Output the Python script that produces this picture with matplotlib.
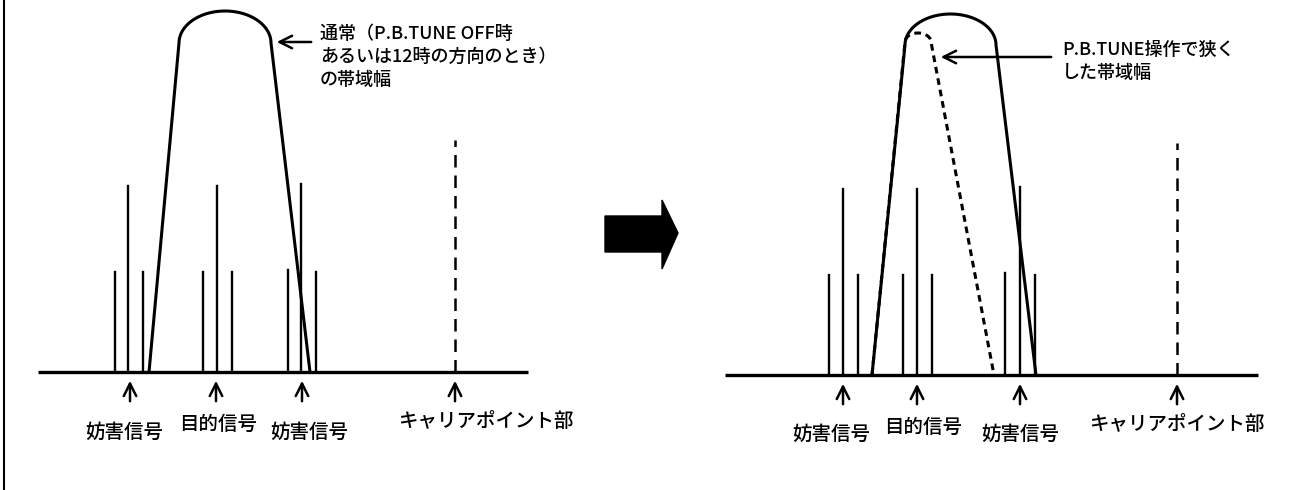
import numpy as np
import matplotlib
matplotlib.use("Agg")
import matplotlib.pyplot as plt
from matplotlib.patches import Polygon

plt.rcParams['font.family'] = ['Noto Sans CJK JP', 'DejaVu Sans']

# diagram units: x to the right, y = height above the baseline
# left panel (normal bandwidth)
L_base = 372
L_span = (38, 528)
L_sig_x = [115, 128, 143, 203, 217, 232, 288, 301, 316]
L_sig_h = [100, 186, 100, 100, 186, 100, 102, 188, 100]
L_carrier_x = 455
L_carrier_h = 232
# filter outline: feet, shoulders, shoulder height, peak height
L_filter = dict(foot=(149, 310), shoulder=(179, 271), shoulder_h=329, peak_h=361)
L_arrow_x = [130, 216, 302, 455]
L_labels = ['妨害信号', '目的信号', '妨害信号', 'キャリアポイント部']
L_label_x = [124, 218, 309, 486]
L_label_y = [432, 424, 432, 421]

# right panel (narrowed by P.B.TUNE)
R_base = 375
R_span = (725, 1258)
R_sig_x = [829, 843, 858, 903, 917, 932, 1005, 1020, 1035]
R_sig_h = [100, 186, 100, 100, 186, 100, 102, 188, 100]
R_carrier_x = 1177
R_carrier_h = 232
R_filter = dict(foot=(872, 1036), shoulder=(905, 996), shoulder_h=330, peak_h=361)
R_narrow = dict(foot=(872, 994), shoulder=(905, 931), shoulder_h=333, peak_h=342)
R_arrow_x = [843, 917, 1020, 1177]
R_labels = ['妨害信号', '目的信号', '妨害信号', 'キャリアポイント部']
R_label_x = [831, 923, 1020, 1177]
R_label_y = [434, 427, 434, 424]

note_L = ['通常（P.B.TUNE OFF時', 'あるいは12時の方向のとき）', 'の帯域幅']
note_R = ['P.B.TUNE操作で狭く', 'した帯域幅']

fig = plt.figure(figsize=(13.03, 4.9), dpi=100)
ax = fig.add_axes([0, 0, 1, 1])
ax.set_xlim(0, 1303)
ax.set_ylim(490, 0)
ax.axis('off')

ARROW = dict(arrowstyle='->,head_length=0.9,head_width=0.45', color='black', lw=1.8)


def outline(f, base, n=50):
    # straight legs and an elliptical cap between the shoulders
    fx0, fx1 = f['foot']
    sx0, sx1 = f['shoulder']
    cx = (sx0 + sx1) / 2
    a = (sx1 - sx0) / 2
    b = f['peak_h'] - f['shoulder_h']
    t = np.linspace(np.pi, 0, n)
    cap_x = cx + a * np.cos(t)
    cap_y = base - f['shoulder_h'] - b * np.sin(t)
    xs = np.concatenate([[fx0], cap_x, [fx1]])
    ys = np.concatenate([[base], cap_y, [base]])
    return xs, ys


def panel(base, span, sig_x, sig_h, carrier_x, carrier_h, arrow_x, labels, lab_x, lab_y):
    ax.plot(span, [base, base], color='black', lw=2.4, solid_capstyle='butt')
    for x, h in zip(sig_x, sig_h):
        ax.plot([x, x], [base, base - h], color='black', lw=1.7)
    ax.plot([carrier_x, carrier_x], [base, base - carrier_h], color='black',
            lw=1.8, dashes=(5, 3.2))
    for x in arrow_x:
        ax.annotate('', xy=(x, base + 6), xytext=(x, base + 32), arrowprops=ARROW)
    for t, x, y in zip(labels, lab_x, lab_y):
        ax.text(x, y, t, ha='center', va='center', fontsize=14, fontweight='medium')


panel(L_base, L_span, L_sig_x, L_sig_h, L_carrier_x, L_carrier_h,
      L_arrow_x, L_labels, L_label_x, L_label_y)
panel(R_base, R_span, R_sig_x, R_sig_h, R_carrier_x, R_carrier_h,
      R_arrow_x, R_labels, R_label_x, R_label_y)

xs, ys = outline(L_filter, L_base)
ax.plot(xs, ys, color='black', lw=2.2)
xs, ys = outline(R_filter, R_base)
ax.plot(xs, ys, color='black', lw=2.2)
xs, ys = outline(R_narrow, R_base)
ax.plot(xs, ys, color='black', lw=2.2, dashes=(2.2, 1.6))

# callouts
ax.annotate('', xy=(274, 42), xytext=(314, 42), arrowprops=ARROW)
for i, t in enumerate(note_L):
    ax.text(320, 34 + i * 23, t, ha='left', va='center', fontsize=13, fontweight='medium')

ax.annotate('', xy=(938, 57), xytext=(1054, 57), arrowprops=ARROW)
for i, t in enumerate(note_R):
    ax.text(1062, 50 + i * 23, t, ha='left', va='center', fontsize=13, fontweight='medium')

# big arrow between the panels
ax.add_patch(Polygon([(605, 216), (662, 216), (662, 200), (678, 233),
                      (662, 269), (662, 252), (605, 252)],
                     closed=True, color='black'))

# left frame line
ax.plot([4, 4], [0, 490], color='black', lw=1.5)

fig.savefig('out.png', dpi=100)
